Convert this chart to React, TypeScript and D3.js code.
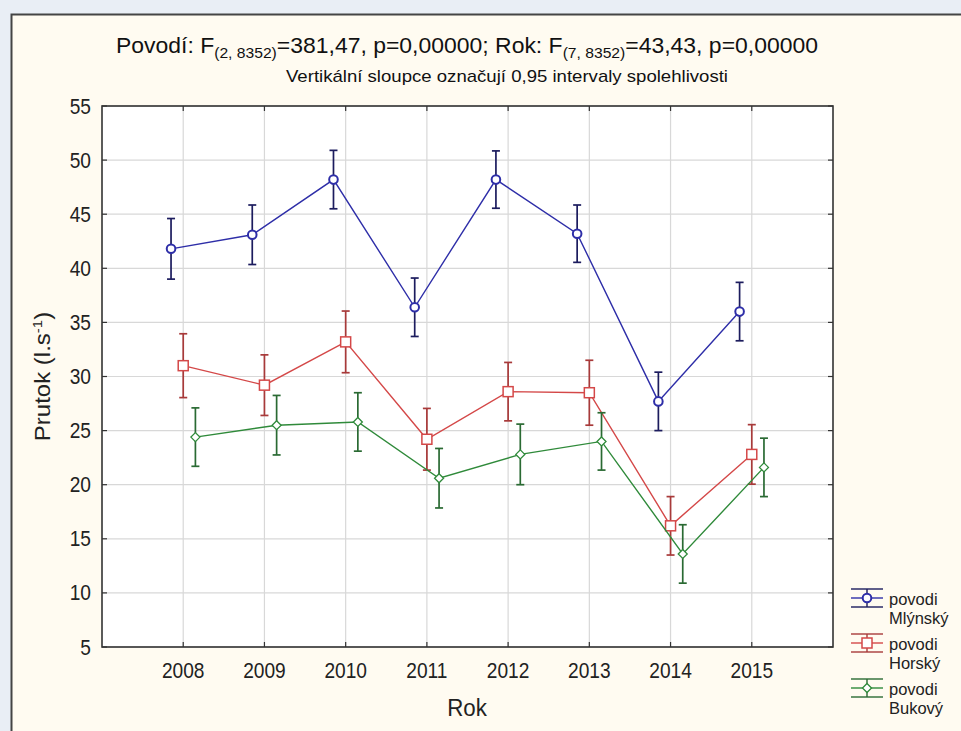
import React from "react";
import * as d3 from "d3";

const years = [2008, 2009, 2010, 2011, 2012, 2013, 2014, 2015];
const yTicks = [5, 10, 15, 20, 25, 30, 35, 40, 45, 50, 55];

const mlynskyMean = [41.8, 43.1, 48.2, 36.4, 48.2, 43.2, 27.7, 36.0];
const mlynskyHalf = [2.8, 2.75, 2.7, 2.7, 2.65, 2.65, 2.7, 2.7];
const horskyMean = [31.0, 29.2, 33.2, 24.2, 28.6, 28.5, 16.2, 22.8];
const horskyHalf = [2.95, 2.8, 2.85, 2.85, 2.7, 3.0, 2.7, 2.75];
const bukovyMean = [24.4, 25.5, 25.8, 20.6, 22.8, 24.0, 13.6, 21.6];
const bukovyHalf = [2.7, 2.75, 2.7, 2.75, 2.8, 2.65, 2.7, 2.7];

const seriesNames = ["povodi\nMlýnský", "povodi\nHorský", "povodi\nBukový"];

type Series = {
  name: string;
  mean: number[];
  half: number[];
  line: string;
  bar: string;
  marker: "circle" | "square" | "diamond";
  offset: number;
};

const series: Series[] = [
  { name: seriesNames[0], mean: mlynskyMean, half: mlynskyHalf, line: "#2e2ea8", bar: "#1c1c5e", marker: "circle", offset: -0.15 },
  { name: seriesNames[1], mean: horskyMean, half: horskyHalf, line: "#d44848", bar: "#a83a3a", marker: "square", offset: 0 },
  { name: seriesNames[2], mean: bukovyMean, half: bukovyHalf, line: "#2f8a3a", bar: "#2a6a33", marker: "diamond", offset: 0.15 },
];

const W = 961;
const H = 731;
const plot = { left: 102, right: 833, top: 106, bottom: 647 };
const font = "'Liberation Sans', Arial, sans-serif";

const x = d3.scaleLinear().domain([2007, 2016]).range([plot.left, plot.right]);
const y = d3.scaleLinear().domain([5, 55]).range([plot.bottom, plot.top]);

// Text drawn with a slight horizontal condensation
function NText({
  x: tx,
  y: ty,
  size,
  sx = 0.89,
  anchor = "start",
  children,
}: {
  x: number;
  y: number;
  size: number;
  sx?: number;
  anchor?: string;
  children: React.ReactNode;
}) {
  return (
    <text
      transform={`translate(${tx},${ty}) scale(${sx},1)`}
      textAnchor={anchor}
      fontFamily={font}
      fontSize={size}
      fill="#222"
    >
      {children}
    </text>
  );
}

function Marker({ kind, cx, cy, color }: { kind: string; cx: number; cy: number; color: string }) {
  if (kind === "circle")
    return <circle cx={cx} cy={cy} r={4.3} fill="white" stroke={color} strokeWidth={2} />;
  if (kind === "square")
    return <rect x={cx - 5} y={cy - 5} width={10} height={10} fill="white" stroke={color} strokeWidth={1.5} />;
  return (
    <path
      d={`M${cx},${cy - 4.5}L${cx + 4.5},${cy}L${cx},${cy + 4.5}L${cx - 4.5},${cy}Z`}
      fill="white"
      stroke={color}
      strokeWidth={1.3}
    />
  );
}

export default function App() {
  const line = d3
    .line<[number, number]>()
    .x((d) => d[0])
    .y((d) => d[1]);

  return (
    <svg width={W} height={H} style={{ position: "absolute", left: 0, top: 0, display: "block" }}>
      <rect x={0} y={0} width={W} height={H} fill="#e9eef5" />
      <rect x={11} y={14} width={W - 11} height={H - 14} fill="#fffbf1" />
      <path d={`M11.5,${H}V14.5H${W}`} fill="none" stroke="#444" strokeWidth={2} />

      {/* titles */}
      <text
        x={116}
        y={53}
        textLength={702}
        lengthAdjust="spacingAndGlyphs"
        fontFamily={font}
        fontSize={22}
        fill="#111"
      >
        <tspan>Povodí: F</tspan>
        <tspan fontSize={15} dy={5}>(2, 8352)</tspan>
        <tspan dy={-5}>=381,47, p=0,00000; Rok: F</tspan>
        <tspan fontSize={15} dy={5}>(7, 8352)</tspan>
        <tspan dy={-5}>=43,43, p=0,00000</tspan>
      </text>
      <text
        x={286}
        y={82}
        textLength={442}
        lengthAdjust="spacingAndGlyphs"
        fontFamily={font}
        fontSize={17}
        fill="#111"
      >
        Vertikální sloupce označují 0,95 intervaly spolehlivosti
      </text>

      {/* plot area */}
      <rect x={plot.left} y={plot.top} width={plot.right - plot.left} height={plot.bottom - plot.top} fill="white" />
      {yTicks.map((t) => (
        <line key={"gy" + t} x1={plot.left} x2={plot.right} y1={y(t)} y2={y(t)} stroke="#d8d8d8" strokeWidth={1.2} />
      ))}
      {years.map((yr) => (
        <line key={"gx" + yr} x1={x(yr)} x2={x(yr)} y1={plot.top} y2={plot.bottom} stroke="#d8d8d8" strokeWidth={1.2} />
      ))}

      {/* series */}
      {series.map((s) => {
        const pts: [number, number][] = years.map((yr, i) => [x(yr + s.offset), y(s.mean[i])]);
        return (
          <g key={s.name}>
            <path d={line(pts) || ""} fill="none" stroke={s.line} strokeWidth={1.4} />
            {years.map((yr, i) => {
              const cx = x(yr + s.offset);
              const top = y(s.mean[i] + s.half[i]);
              const bot = y(s.mean[i] - s.half[i]);
              return (
                <g key={yr} stroke={s.bar} strokeWidth={1.7}>
                  <line x1={cx} x2={cx} y1={top} y2={bot} />
                  <line x1={cx - 4} x2={cx + 4} y1={top} y2={top} />
                  <line x1={cx - 4} x2={cx + 4} y1={bot} y2={bot} />
                </g>
              );
            })}
            {years.map((yr, i) => (
              <Marker key={"m" + yr} kind={s.marker} cx={x(yr + s.offset)} cy={y(s.mean[i])} color={s.line} />
            ))}
          </g>
        );
      })}

      {/* frame and ticks */}
      <rect
        x={plot.left}
        y={plot.top}
        width={plot.right - plot.left}
        height={plot.bottom - plot.top}
        fill="none"
        stroke="#333"
        strokeWidth={1.6}
      />
      {yTicks.map((t) => (
        <g key={"ty" + t} stroke="#333" strokeWidth={1.2}>
          <line x1={plot.left} x2={plot.left + 5} y1={y(t)} y2={y(t)} />
          <line x1={plot.right - 5} x2={plot.right} y1={y(t)} y2={y(t)} />
        </g>
      ))}
      {years.map((yr) => (
        <g key={"tx" + yr} stroke="#333" strokeWidth={1.2}>
          <line x1={x(yr)} x2={x(yr)} y1={plot.bottom - 5} y2={plot.bottom} />
          <line x1={x(yr)} x2={x(yr)} y1={plot.top} y2={plot.top + 5} />
        </g>
      ))}

      {yTicks.map((t) => (
        <NText key={"ly" + t} x={91} y={y(t) + 7.5} size={21.5} anchor="end">
          {t}
        </NText>
      ))}
      {years.map((yr) => (
        <NText key={"lx" + yr} x={x(yr)} y={678} size={21.5} anchor="middle">
          {yr}
        </NText>
      ))}

      <NText x={467} y={716} size={24} sx={0.93} anchor="middle">
        Rok
      </NText>
      <text
        transform={`translate(50, ${(plot.top + plot.bottom) / 2}) scale(0.9,1) rotate(-90)`}
        textAnchor="middle"
        fontFamily={font}
        fontSize={24}
        fill="#222"
      >
        <tspan>Prutok (l.s</tspan>
        <tspan fontSize={15} dy={-9}>-1</tspan>
        <tspan dy={9}>)</tspan>
      </text>

      {/* legend */}
      {series.map((s, i) => {
        const cy = 598 + i * 45;
        const lines = s.name.split("\n");
        return (
          <g key={"lg" + i}>
            <g stroke={s.bar} strokeWidth={1.4}>
              <line x1={851} x2={883} y1={cy - 9} y2={cy - 9} />
              <line x1={851} x2={883} y1={cy + 9} y2={cy + 9} />
              <line x1={867} x2={867} y1={cy - 9} y2={cy + 9} />
            </g>
            <line x1={851} x2={883} y1={cy} y2={cy} stroke={s.line} strokeWidth={1.4} />
            <Marker kind={s.marker} cx={867} cy={cy} color={s.line} />
            <text x={889} y={cy + 7} fontFamily={font} fontSize={16.5} fill="#222">
              {lines[0]}
            </text>
            <text x={889} y={cy + 26} fontFamily={font} fontSize={16.5} fill="#222">
              {lines[1]}
            </text>
          </g>
        );
      })}
    </svg>
  );
}
